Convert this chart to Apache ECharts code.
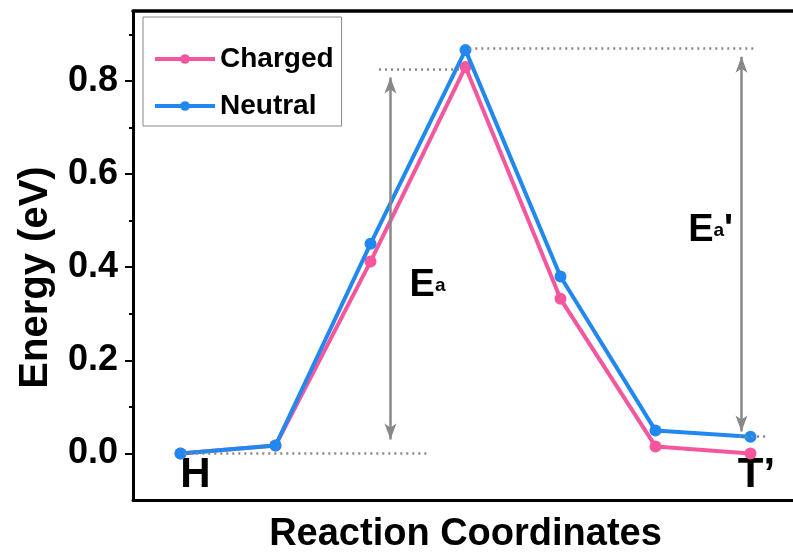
<!DOCTYPE html>
<html>
<head>
<meta charset="utf-8">
<script src="https://cdn.jsdelivr.net/npm/echarts@6/dist/echarts.min.js"></script>
<style>
  html, body { margin: 0; padding: 0; background: #fff; }
  #chart { width: 793px; height: 554px; }
</style>
</head>
<body>
<div id="chart"></div>
<script>
// reaction steps (x positions of the images along the path)
var steps = [0, 1, 2, 3, 4, 5, 6];
var charged = [0.0, 0.017, 0.412, 0.83, 0.332, 0.015, 0.0];
var neutral = [0.0, 0.017, 0.45, 0.866, 0.38, 0.049, 0.036];

var yMajorTicks = [0, 0.2, 0.4, 0.6, 0.8];
var yMinorTicks = [0.1, 0.3, 0.5, 0.7, 0.9];
var endLabelAt = [0, 6];
var endLabels = ['H', 'T\u2019'];

// dotted guide lines: [x1, x2, y]
var guides = [
    [0.04, 2.62, 0.0],
    [2.09, 2.94, 0.824],
    [3.04, 6.04, 0.871],
    [5.88, 6.18, 0.036]
];
// double arrows: [x, yBottom, yTop]
var arrows = [
    [2.21, 0.03, 0.807],
    [5.905, 0.047, 0.852]
];

var FONT = 'Liberation Sans, Arial, sans-serif';
var PINK = '#F4579E';
var BLUE = '#2088EE';

function pairs(xs, ys) {
    return xs.map(function (x, i) { return [x, ys[i]]; });
}

var chart = echarts.init(document.getElementById('chart'));

var option = {
    backgroundColor: '#fff',
    animation: false,
    textStyle: { fontFamily: FONT },
    grid: {
        left: 133, top: 11, width: 665, height: 489,
        outerBoundsMode: 'none',
        containLabel: false
    },
    legend: {
        data: ['Charged', 'Neutral'],
        orient: 'vertical',
        left: 143, top: 17,
        padding: [28, 8, 6, 10],
        itemGap: 19,
        itemWidth: 60,
        itemHeight: 12,
        borderColor: '#888',
        borderWidth: 1,
        lineStyle: { width: 4 },
        textStyle: { fontSize: 28, fontWeight: 'bold', color: '#000', fontFamily: FONT }
    },
    xAxis: [{
        type: 'value',
        min: -0.5, max: 6.5,
        axisLine: { show: true, onZero: false, lineStyle: { color: '#000', width: 3 } },
        axisTick: { show: false },
        splitLine: { show: false },
        axisLabel: {
            inside: true,
            margin: 4,
            customValues: endLabelAt,
            formatter: function (v) {
                return v === 0 ? '{h|' + endLabels[0] + '}' : '{t|' + endLabels[1] + '}';
            },
            rich: {
                h: { fontSize: 42, fontWeight: 'bold', color: '#000', fontFamily: FONT, padding: [0, 0, 0, 30] },
                t: { fontSize: 42, fontWeight: 'bold', color: '#000', fontFamily: FONT, padding: [0, 0, 0, 12] }
            }
        },
        name: 'Reaction Coordinates',
        nameLocation: 'middle',
        nameGap: 16,
        nameTextStyle: { fontSize: 38, fontWeight: 'bold', color: '#000', fontFamily: FONT }
    }, {
        // top frame line
        type: 'value',
        position: 'top',
        min: -0.5, max: 6.5,
        axisLine: { show: true, onZero: false, lineStyle: { color: '#000', width: 3.5 } },
        axisTick: { show: false },
        axisLabel: { show: false },
        splitLine: { show: false }
    }],
    yAxis: [{
        type: 'value',
        position: 'left',
        min: -0.1, max: 0.95,
        axisLine: { show: true, onZero: false, lineStyle: { color: '#000', width: 3 } },
        axisTick: { show: true, length: 8, customValues: yMajorTicks, lineStyle: { color: '#000', width: 2 } },
        splitLine: { show: false },
        axisLabel: {
            customValues: yMajorTicks,
            margin: 15,
            fontSize: 36, fontWeight: 'bold', color: '#000', fontFamily: FONT,
            formatter: function (v) { return v.toFixed(1); }
        },
        name: 'Energy (eV)',
        nameLocation: 'middle',
        nameGap: 77,
        nameTextStyle: { fontSize: 40, fontWeight: 'bold', color: '#000', fontFamily: FONT, padding: [0, 44, 0, 0] }
    }, {
        type: 'value',
        position: 'left',
        min: -0.1, max: 0.95,
        axisLine: { show: false, onZero: false },
        axisTick: { show: true, length: 4, customValues: yMinorTicks, lineStyle: { color: '#000', width: 2 } },
        axisLabel: { show: false },
        splitLine: { show: false }
    }],
    series: [
        {
            name: 'Charged',
            type: 'line',
            data: pairs(steps, charged),
            symbol: 'circle',
            symbolSize: 12,
            lineStyle: { color: PINK, width: 4 },
            itemStyle: { color: PINK },
            z: 3
        },
        {
            name: 'Neutral',
            type: 'line',
            data: pairs(steps, neutral),
            symbol: 'circle',
            symbolSize: 12,
            lineStyle: { color: BLUE, width: 4 },
            itemStyle: { color: BLUE },
            z: 4
        },
        {
            name: 'guides',
            type: 'line',
            data: [],
            z: 2,
            markLine: {
                silent: true,
                symbol: ['none', 'none'],
                label: { show: false },
                lineStyle: { color: '#888', type: [2, 4], width: 2.5 },
                data: guides.map(function (g) {
                    return [{ coord: [g[0], g[2]] }, { coord: [g[1], g[2]] }];
                })
            },
            markPoint: {
                silent: true,
                symbol: 'rect',
                symbolSize: 1,
                itemStyle: { color: 'rgba(0,0,0,0)' },
                label: {
                    show: true,
                    position: 'inside',
                    rich: {
                        e: { fontSize: 38, fontWeight: 'bold', color: '#000', fontFamily: FONT },
                        s: { fontSize: 19, fontWeight: 'bold', color: '#000', fontFamily: FONT }
                    }
                },
                data: [
                    { coord: [2.6, 0.36], label: { formatter: '{e|E}{s|a}' } },
                    { coord: [5.58, 0.478], label: { formatter: '{e|E}{s|a}{e|\'}' } }
                ]
            }
        },
        {
            name: 'arrows',
            type: 'line',
            data: [],
            z: 2,
            markLine: {
                silent: true,
                symbol: ['arrow', 'arrow'],
                symbolSize: [9, 16],
                label: { show: false },
                lineStyle: { color: '#888', type: 'solid', width: 2.5 },
                data: arrows.map(function (a) {
                    return [{ coord: [a[0], a[1]] }, { coord: [a[0], a[2]] }];
                })
            }
        }
    ]
};

chart.setOption(option);
</script>
</body>
</html>
